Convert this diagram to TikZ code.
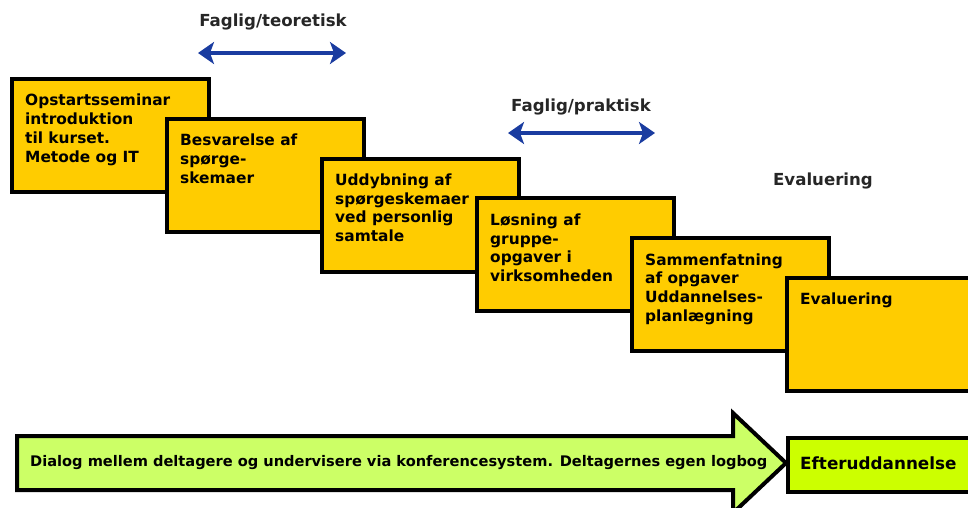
\documentclass[tikz,border=0pt]{standalone}
\usepackage{fontspec}
\setmainfont{DejaVu Sans}
\usetikzlibrary{arrows.meta,positioning}
\definecolor{stepyellow}{HTML}{FFCC00}
\definecolor{dialoggreen}{HTML}{CCFF66}
\definecolor{eftergreen}{HTML}{CCFF00}
\definecolor{spanblue}{HTML}{1A3CA0}
\tikzset{
  stepbox/.style={draw=black,fill=stepyellow,line width=4pt,minimum width=197pt,minimum height=113pt,anchor=north west,inner sep=0pt},
  steptext/.style={anchor=north west,inner sep=0pt,align=left,font=\bfseries\fontsize{15.4}{18.7}\selectfont},
  spanarrow/.style={draw=spanblue,line width=4pt,{Stealth[length=16pt,width=22pt,inset=4pt]}-{Stealth[length=16pt,width=22pt,inset=4pt]}},
  headtext/.style={text=black!85,font=\bfseries\fontsize{16.6}{19}\selectfont},
  bartext/.style={anchor=west,inner sep=0pt,font=\bfseries\fontsize{14.6}{17}\selectfont}
}
\begin{document}
\begin{tikzpicture}[x=1pt,y=-1pt]
\useasboundingbox (0,0) rectangle (968,507);
\clip (0,0) rectangle (968,507);
% ranges above the steps
\node[headtext] (teo) at (273,22) {Faglig/teoretisk};
\coordinate (teoL) at (198,53);
\coordinate (teoR) at (346,53);
\draw[spanarrow] (teoL) -- (teoR);
\node[headtext] (prak) at (581,107) {Faglig/praktisk};
\coordinate (prakL) at (508,133);
\coordinate (prakR) at (655,133);
\draw[spanarrow] (prakL) -- (prakR);
\node[headtext] (eval) at (823,181) {Evaluering};
% the steps
\foreach \i/\txt in {1/{Opstartsseminar\\introduktion\\til kurset.\\Metode og IT},
    2/{Besvarelse af\\spørge-\\skemaer},
    3/{Uddybning af\\spørgeskemaer\\ved personlig\\samtale},
    4/{Løsning af\\gruppe-\\opgaver i\\virksomheden},
    5/{Sammenfatning\\af opgaver\\Uddannelses-\\planlægning},
    6/{Evaluering}} {
  \node[stepbox] (s\i) at ({10+155*(\i-1)},{77+39.8*(\i-1)}) {};
  \node[steptext] (t\i) at ([shift={(15,17)}]s\i.north west) {\txt};
}
% dialog bar
\draw[fill=dialoggreen,line width=4pt,line join=miter]
  (17,436) -- (733,436) -- (733,413) -- (786,463) -- (733,513) -- (733,490) -- (17,490) -- cycle;
\node[bartext] (dialog) at (30,463) {Dialog mellem deltagere og undervisere via konferencesystem. Deltagernes egen logbog};
\node[draw=black,fill=eftergreen,line width=4pt,minimum width=200pt,minimum height=54pt,anchor=north west,inner sep=0pt] (efter) at (786,436) {};
\node[bartext,font=\bfseries\fontsize{16.8}{19}\selectfont] (eftertxt) at (800,463) {Efteruddannelse};
\end{tikzpicture}
\end{document}
